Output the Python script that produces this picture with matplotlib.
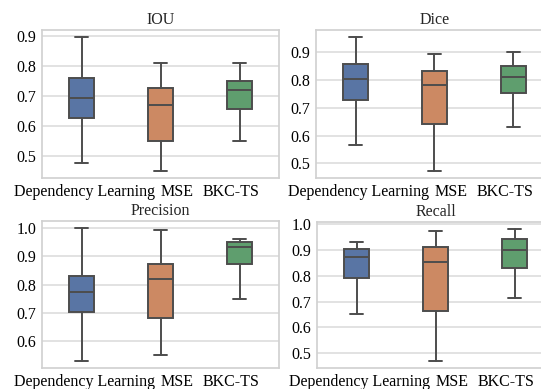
import matplotlib
matplotlib.use("Agg")
import matplotlib.pyplot as plt
from matplotlib.ticker import MultipleLocator
import seaborn as sns

sns.set_style("whitegrid")
plt.rcParams["font.family"] = ["Liberation Serif", "DejaVu Serif"]

methods = ["Dependency Learning", "MSE", "BKC-TS"]
metrics = ["IOU", "Dice", "Precision", "Recall"]

# box statistics: lower whisker, Q1, median, Q3, upper whisker
whislo = {
    "IOU": [0.479, 0.450, 0.550],
    "Dice": [0.568, 0.472, 0.632],
    "Precision": [0.530, 0.551, 0.750],
    "Recall": [0.651, 0.468, 0.712],
}
q1 = {
    "IOU": [0.628, 0.550, 0.658],
    "Dice": [0.727, 0.641, 0.752],
    "Precision": [0.702, 0.682, 0.872],
    "Recall": [0.791, 0.662, 0.832],
}
med = {
    "IOU": [0.694, 0.671, 0.721],
    "Dice": [0.803, 0.781, 0.811],
    "Precision": [0.775, 0.821, 0.932],
    "Recall": [0.873, 0.854, 0.901],
}
q3 = {
    "IOU": [0.760, 0.729, 0.751],
    "Dice": [0.857, 0.833, 0.851],
    "Precision": [0.830, 0.873, 0.951],
    "Recall": [0.903, 0.912, 0.942],
}
whishi = {
    "IOU": [0.899, 0.810, 0.810],
    "Dice": [0.955, 0.893, 0.900],
    "Precision": [1.000, 0.992, 0.960],
    "Recall": [0.933, 0.973, 0.983],
}

colores = [sns.desaturate(c, 0.75) for c in sns.color_palette("deep")[:3]]
gris = "#4d4d4d"

fig = plt.figure(figsize=(5.41, 3.89), dpi=100)
posiciones = {
    "IOU": [42 / 541, 211 / 389, 237 / 541, 148 / 389],
    "Dice": [316 / 541, 211 / 389, 237 / 541, 148 / 389],
    "Precision": [42 / 541, 21 / 389, 237 / 541, 147 / 389],
    "Recall": [317 / 541, 21 / 389, 237 / 541, 146 / 389],
}
# las etiquetas del eje x no quedan centradas en las cajas
pos_etiquetas = [0.044, 1.21, 1.89]

for m in metrics:
    ax = fig.add_axes(posiciones[m])
    stats = []
    for i, name in enumerate(methods):
        stats.append({
            "label": name,
            "whislo": whislo[m][i],
            "q1": q1[m][i],
            "med": med[m][i],
            "q3": q3[m][i],
            "whishi": whishi[m][i],
            "fliers": [],
        })
    res = ax.bxp(
        stats,
        positions=[0, 1, 2],
        widths=0.32,
        capwidths=0.16,
        patch_artist=True,
        showfliers=False,
        boxprops=dict(edgecolor=gris, linewidth=1.4),
        whiskerprops=dict(color=gris, linewidth=1.4),
        capprops=dict(color=gris, linewidth=1.4),
        medianprops=dict(color=gris, linewidth=1.4),
    )
    for patch, c in zip(res["boxes"], colores):
        patch.set_facecolor(c)
    ax.set_xlim(-0.5, 2.5)
    ax.margins(y=0.05)
    ax.set_xticks(pos_etiquetas)
    ax.set_xticklabels(methods)
    ax.yaxis.set_major_locator(MultipleLocator(0.1))
    ax.grid(False, axis="x")
    ax.grid(True, axis="y", color="#dddddd", linewidth=1.2)
    ax.set_axisbelow(True)
    for s in ax.spines.values():
        s.set_color("#d0d0d0")
        s.set_linewidth(1.2)
    ax.tick_params(axis="both", length=0, labelsize=11.5, colors="black", pad=4)
    ax.set_title(m, fontsize=11.5, pad=4)

plt.savefig("out.png", dpi=100)
